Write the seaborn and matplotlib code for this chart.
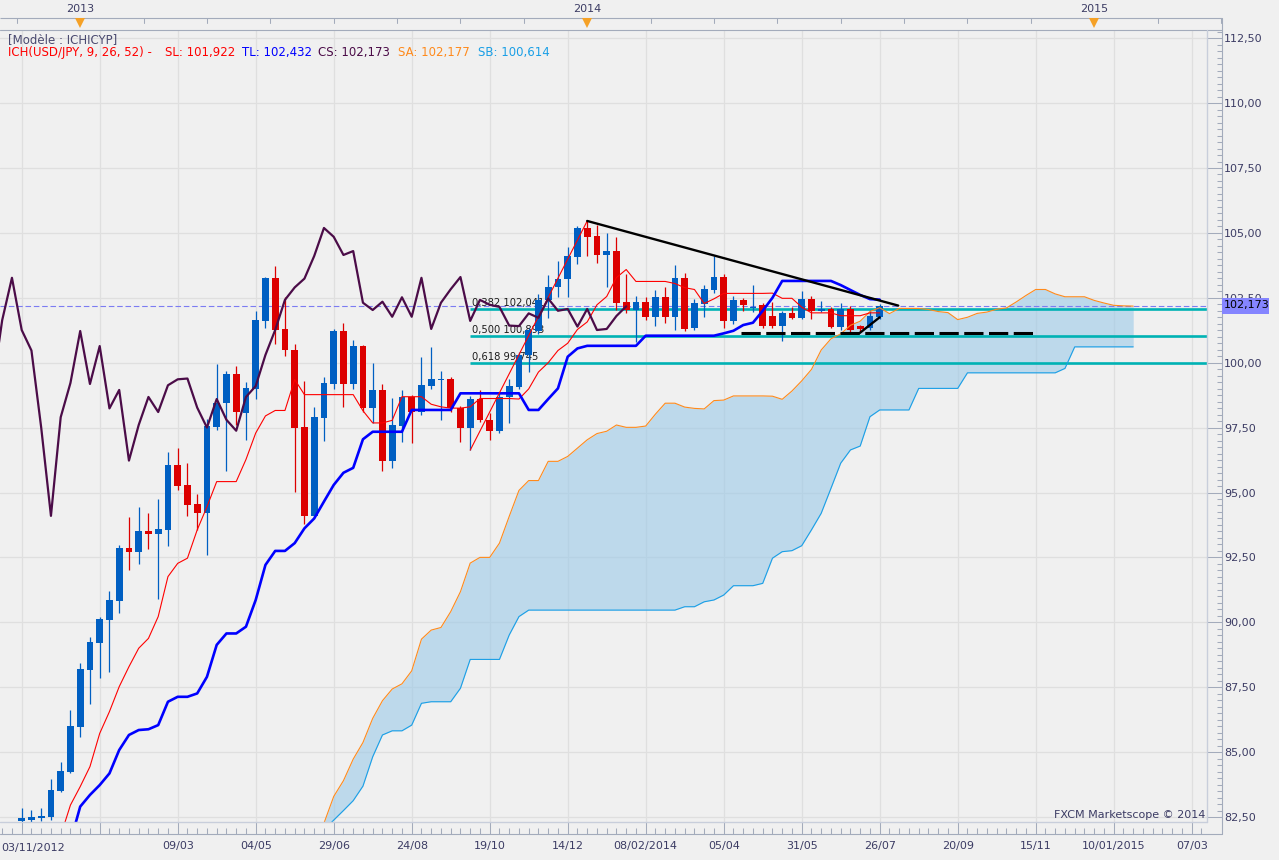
import matplotlib
matplotlib.use("Agg")
import matplotlib.pyplot as plt
import matplotlib.transforms as mtransforms
from matplotlib.lines import Line2D
from matplotlib.patches import Rectangle
from matplotlib.ticker import FixedLocator, FixedFormatter, MultipleLocator
import numpy as np
import seaborn as sns

# --- donnees USD/JPY hebdo ---
opens = [82.35, 82.40, 82.47, 82.50, 83.51, 84.25, 85.98, 88.17, 89.21, 90.09,
         90.82, 92.86, 92.71, 93.52, 93.41, 93.56, 96.06, 95.29, 94.56, 94.21,
         97.53, 98.43, 99.55, 98.07, 98.99, 101.62, 103.27, 101.30, 100.49, 97.53,
         94.10, 97.87, 99.18, 101.22, 99.18, 100.65, 98.26, 98.95, 96.23, 97.56,
         98.68, 98.10, 99.10, 99.33, 99.39, 98.27, 97.50, 98.60, 97.80, 97.38,
         98.68, 99.07, 100.30, 101.23, 102.42, 102.90, 103.22, 104.08, 105.19, 104.88,
         104.15, 104.30, 102.35, 102.03, 102.35, 101.77, 102.52, 101.77, 103.27, 101.33,
         102.26, 102.80, 103.30, 101.61, 102.42, 102.10, 102.23, 101.80, 101.41, 101.90,
         101.73, 102.47, 102.00, 102.07, 101.39, 102.07, 101.40, 101.33, 101.77]
highs = [82.86, 82.77, 82.86, 83.95, 84.63, 86.62, 88.44, 89.43, 90.22, 91.20,
         92.98, 94.07, 94.44, 94.21, 94.75, 96.56, 96.71, 96.14, 94.94, 97.82,
         99.95, 99.68, 99.87, 99.26, 101.99, 103.31, 103.72, 102.54, 100.72, 99.29,
         98.30, 99.46, 101.30, 101.53, 100.87, 100.68, 99.98, 99.17, 98.65, 98.95,
         98.75, 100.23, 100.61, 99.68, 99.45, 98.35, 98.70, 98.95, 98.05, 98.82,
         99.39, 100.42, 101.35, 102.65, 103.38, 103.92, 104.47, 105.25, 105.46, 105.30,
         104.98, 104.83, 103.42, 102.57, 102.54, 102.80, 102.90, 103.76, 103.44, 102.45,
         102.99, 104.11, 103.43, 102.57, 102.50, 102.99, 102.30, 102.33, 101.99, 102.13,
         102.77, 102.57, 102.38, 102.16, 102.29, 102.18, 101.45, 102.03, 102.25]
lows = [82.20, 82.25, 82.35, 82.38, 83.45, 84.20, 85.60, 86.85, 87.87, 88.10,
        90.37, 92.00, 92.25, 92.82, 90.90, 92.94, 95.10, 94.10, 93.56, 92.59,
        97.40, 95.84, 97.60, 97.02, 98.60, 101.33, 100.72, 100.27, 95.03, 93.80,
        94.00, 96.99, 99.00, 98.30, 99.00, 98.10, 97.67, 95.84, 95.95, 96.95,
        96.89, 98.00, 99.00, 97.79, 98.10, 96.95, 96.63, 97.70, 97.02, 97.30,
        97.67, 99.00, 99.63, 101.10, 101.71, 102.54, 102.54, 103.82, 104.12, 103.85,
        102.93, 102.03, 101.90, 100.80, 101.64, 101.41, 101.54, 101.26, 101.22, 101.25,
        101.77, 102.70, 101.35, 101.50, 102.00, 101.95, 101.35, 101.33, 100.85, 101.70,
        101.70, 101.67, 101.95, 101.35, 101.26, 101.20, 101.20, 101.25, 101.70]
closes = [82.45, 82.50, 82.55, 83.54, 84.27, 86.00, 88.20, 89.24, 90.11, 90.85,
          92.86, 92.72, 93.52, 93.41, 93.59, 96.06, 95.26, 94.52, 94.21, 97.56,
          98.43, 99.55, 98.09, 99.01, 101.64, 103.27, 101.26, 100.47, 97.50, 94.10,
          97.90, 99.22, 101.22, 99.18, 100.64, 98.24, 98.95, 96.23, 97.60, 98.68,
          98.10, 99.13, 99.36, 99.39, 98.27, 97.50, 98.60, 97.80, 97.38, 98.68,
          99.10, 100.30, 101.26, 102.42, 102.90, 103.24, 104.11, 105.19, 104.85, 104.15,
          104.30, 102.31, 102.03, 102.35, 101.77, 102.52, 101.77, 103.27, 101.30, 102.31,
          102.83, 103.30, 101.61, 102.42, 102.23, 102.15, 101.43, 101.41, 101.90, 101.73,
          102.47, 102.00, 102.07, 101.39, 102.07, 101.26, 101.30, 101.80, 102.17]

# Tenkan (SL) a partir de la semaine 4, Kijun (TL) a partir de la semaine 5
tenkan_start = 4
tenkan = [81.78, 82.96, 83.67, 84.44, 85.72, 86.56, 87.52, 88.29, 89.00, 89.38,
          90.22, 91.76, 92.27, 92.47, 93.56, 94.45, 95.42, 95.42, 95.42, 96.27,
          97.29, 97.95, 98.16, 98.16, 99.35, 98.77, 98.77, 98.77, 98.77, 98.77,
          98.77, 98.15, 97.68, 97.68, 97.78, 98.69, 98.69, 98.69, 98.40, 98.30,
          98.25, 98.25, 98.30, 98.62, 98.62, 98.62, 98.62, 98.60, 98.99, 99.64,
          100.00, 100.47, 100.75, 101.28, 101.57, 102.23, 102.55, 103.28, 103.59, 103.13,
          103.13, 103.13, 103.13, 103.05, 102.89, 102.82, 102.28, 102.46, 102.67, 102.67,
          102.67, 102.67, 102.67, 102.68, 102.48, 102.48, 102.14, 101.92, 101.92, 101.92,
          101.81, 101.81, 101.81, 101.92, 101.92]
kijun_start = 5
kijun = [81.55, 82.90, 83.35, 83.73, 84.18, 85.08, 85.66, 85.85, 85.88, 86.04,
         86.94, 87.13, 87.13, 87.26, 87.90, 89.13, 89.57, 89.57, 89.83, 90.86,
         92.21, 92.75, 92.75, 93.05, 93.62, 94.00, 94.65, 95.29, 95.76, 95.95,
         97.05, 97.34, 97.34, 97.34, 97.34, 98.18, 98.18, 98.18, 98.18, 98.18,
         98.82, 98.82, 98.82, 98.82, 98.82, 98.82, 98.82, 98.18, 98.18, 98.60,
         99.01, 100.23, 100.55, 100.65, 100.65, 100.65, 100.65, 100.65, 100.65, 101.04,
         101.04, 101.04, 101.04, 101.04, 101.04, 101.04, 101.04, 101.13, 101.23, 101.45,
         101.54, 102.00, 102.50, 103.15, 103.15, 103.15, 103.15, 103.15, 103.15, 102.99,
         102.80, 102.61, 102.45, 102.43]
# nuage : Senkou A / Senkou B, semaines 31 a 114
cloud_start = 31
senkou_a = [82.26, 83.29, 83.90, 84.73, 85.37, 86.30, 86.98, 87.43, 87.63, 88.13,
            89.35, 89.70, 89.80, 90.41, 91.18, 92.28, 92.50, 92.50, 93.05, 94.08,
            95.08, 95.46, 95.46, 96.20, 96.20, 96.39, 96.71, 97.03, 97.27, 97.36,
            97.60, 97.51, 97.51, 97.56, 98.02, 98.44, 98.44, 98.29, 98.24, 98.22,
            98.54, 98.56, 98.72, 98.72, 98.72, 98.72, 98.71, 98.59, 98.91, 99.30,
            99.74, 100.49, 100.92, 101.11, 101.44, 101.60, 101.97, 102.12, 101.89, 102.09,
            102.09, 102.09, 102.05, 101.97, 101.93, 101.66, 101.75, 101.90, 101.95, 102.06,
            102.11, 102.34, 102.59, 102.82, 102.82, 102.65, 102.54, 102.54, 102.54, 102.40,
            102.30, 102.21, 102.19, 102.18]
senkou_b = [82.00, 82.38, 82.75, 83.13, 83.69, 84.82, 85.66, 85.82, 85.82, 86.04,
            86.88, 86.94, 86.94, 86.94, 87.46, 88.57, 88.57, 88.57, 88.57, 89.51,
            90.22, 90.47, 90.47, 90.47, 90.47, 90.47, 90.47, 90.47, 90.47, 90.47,
            90.47, 90.47, 90.47, 90.47, 90.47, 90.47, 90.47, 90.60, 90.60, 90.79,
            90.86, 91.05, 91.41, 91.41, 91.41, 91.50, 92.47, 92.72, 92.76, 92.95,
            93.56, 94.20, 95.16, 96.13, 96.64, 96.79, 97.92, 98.18, 98.18, 98.18,
            98.18, 99.01, 99.01, 99.01, 99.01, 99.01, 99.61, 99.61, 99.61, 99.61,
            99.61, 99.61, 99.61, 99.61, 99.61, 99.61, 99.78, 100.61, 100.61, 100.61,
            100.61, 100.61, 100.61, 100.61]
chikou_from = 23
chikou_shift = 26

# Fibonacci et traces manuels
fib_start = 46
fib_levels = [102.06, 101.03, 100.00]
fib_labels = ["0,382 102,041", "0,500 100,893", "0,618 99,745"]
trend_black_x, trend_black_y = [58, 89.9], [105.46, 102.20]
trend_red_x, trend_red_y = [46, 58], [96.63, 105.46]
trend_short_x, trend_short_y = [85.9, 88.0], [101.13, 101.75]
support_x, support_y = [73.8, 103.8], [101.13, 101.13]
last_price = 102.173

xtick_weeks = [0, 8, 16, 24, 32, 40, 48, 56, 64, 72, 80, 88, 96, 104, 112, 120]
xtick_labels = ["03/11/2012", "", "09/03", "04/05", "29/06", "24/08", "19/10", "14/12",
                "08/02/2014", "05/04", "31/05", "26/07", "20/09", "15/11", "10/01/2015", "07/03"]
year_weeks = [6, 58, 110]
year_labels = ["2013", "2014", "2015"]
ytick_values = [82.5, 85.0, 87.5, 90.0, 92.5, 95.0, 97.5, 100.0, 102.5, 105.0, 107.5, 110.0, 112.5]

# --- styles ---
BG = "#f0f0f0"
GRID = "#dfdfdf"
AXC = "#a3abbb"
TXT = "#3c3c64"
BLUE_C = "#005fc2"
RED_C = "#dc0000"

sns.set_theme(style="white")
plt.rcParams["font.family"] = ["DejaVu Sans"]

W, H = 1279, 860
fig = plt.figure(figsize=(W / 100, H / 100), dpi=100, facecolor=BG)


def fx(px):
    return px / W


def fy(py):
    return 1 - py / H


def fig_line(x0, y0, x1, y1, color=AXC, lw=0.8):
    fig.add_artist(Line2D([fx(x0), fx(x1)], [fy(y0), fy(y1)], transform=fig.transFigure,
                          color=color, lw=lw))


PL, PR, PT, PB = 0, 1207, 30, 822
X0, DX = 21.7, 9.75       # pixel de la semaine 0, pixels par semaine
Y0, DY = 817.0, 25.96     # pixel de 82,50, pixels par yen
ax = fig.add_axes([fx(PL), fy(PB), fx(PR - PL), (PB - PT) / H])
ax.set_facecolor(BG)
xmin, xmax = (PL - X0) / DX, (PR - X0) / DX
ymin, ymax = 82.5 + (Y0 - PB) / DY, 82.5 + (Y0 - PT) / DY

weeks = np.arange(len(opens))
o, h, l, c = map(np.array, (opens, highs, lows, closes))

# grille
for v in xtick_weeks:
    ax.axvline(v, color=GRID, lw=0.9, zorder=0)
for v in ytick_values:
    ax.axhline(v, color=GRID, lw=0.9, zorder=0)

# nuage
cx = np.arange(cloud_start, cloud_start + len(senkou_a))
ax.fill_between(cx, senkou_a, senkou_b, color="#9ecbe8", alpha=0.62, lw=0, zorder=1)

# fibonacci
ax.hlines(fib_levels, fib_start, xmax, colors="#00b2b4", lw=1.9, zorder=2)
for lev, txt in zip(fib_levels, fib_labels):
    ax.annotate(txt, (fib_start, lev), xytext=(1.5, 0.8), textcoords="offset points",
                fontsize=7.2, color="#1e1e1e", va="bottom", ha="left", zorder=2)

# ligne du dernier prix
ax.axhline(last_price, color="#7c7cf2", lw=0.8, dashes=(5, 2.5), zorder=2.5)

# bougies
col = np.where(c >= o, BLUE_C, RED_C)
ax.vlines(weeks, l, h, colors=col, lw=0.9, zorder=4)
ax.bar(weeks, c - o, bottom=o, width=0.68, color=col, lw=0, zorder=4.5)

# lignes ichimoku
sns.lineplot(x=cx, y=senkou_a, ax=ax, color="#ff8a1c", linewidth=0.8, zorder=5)
sns.lineplot(x=cx, y=senkou_b, ax=ax, color="#1a9fe6", linewidth=0.8, zorder=5)
sns.lineplot(x=weeks[tenkan_start:], y=tenkan, ax=ax, color="#ff0000", linewidth=0.8, zorder=6)
sns.lineplot(x=weeks[kijun_start:], y=kijun, ax=ax, color="#0000ff", linewidth=1.9, zorder=6)
sns.lineplot(x=weeks[chikou_from:] - chikou_shift, y=c[chikou_from:], ax=ax,
             color="#4b0c48", linewidth=1.6, zorder=6.5)

# traces
ax.plot(trend_red_x, trend_red_y, color="#ff0000", lw=0.8, zorder=6)
ax.plot(trend_black_x, trend_black_y, color="black", lw=1.7, zorder=7)
ax.plot(trend_short_x, trend_short_y, color="black", lw=1.7, zorder=7)
ax.plot(support_x, support_y, color="black", lw=2.2, linestyle=(0, (6.3, 1.8)), zorder=7)

ax.set_xlim(xmin, xmax)
ax.set_ylim(ymin, ymax)
ax.set_xlabel("")
ax.set_ylabel("")
for s in ax.spines.values():
    s.set_visible(False)
ax.spines["bottom"].set_position(("outward", 8.64))
ax.spines["right"].set_position(("outward", 10.8))

# axe x
ax.xaxis.set_major_locator(FixedLocator(xtick_weeks))
ax.xaxis.set_major_formatter(FixedFormatter([""] + xtick_labels[1:]))
ax.xaxis.set_minor_locator(MultipleLocator(1))
ax.tick_params(axis="x", which="major", direction="in", length=8.64, width=0.75, color=AXC,
               pad=4.8, labelsize=8, labelcolor=TXT, bottom=True, top=False)
ax.tick_params(axis="x", which="minor", direction="in", length=4.3, width=0.75, color=AXC,
               bottom=True, top=False)

# axe y a droite
ax.yaxis.tick_right()
ax.yaxis.set_major_locator(FixedLocator(ytick_values))
ax.yaxis.set_major_formatter(FixedFormatter([f"{v:.2f}".replace(".", ",") for v in ytick_values]))
ax.yaxis.set_minor_locator(MultipleLocator(0.25))
ax.tick_params(axis="y", which="major", direction="in", length=10.8, width=0.75, color=AXC,
               pad=1.5, labelsize=8, labelcolor=TXT, left=False, right=True)
ax.tick_params(axis="y", which="minor", direction="in", length=3.6, width=0.75, color=AXC,
               left=False, right=True)

# premier libelle date cale a gauche
tr_bot = mtransforms.blended_transform_factory(ax.transData, fig.transFigure)
ax.text(xmin + 0.1, fy(848), xtick_labels[0], transform=tr_bot, fontsize=8, color=TXT,
        ha="left", va="center", clip_on=False)

# bandeau des annees en haut
ax.hlines(fy(18), xmin, (1222 - X0) / DX, transform=tr_bot, colors=AXC, lw=0.8, clip_on=False)
for t in np.arange(year_weeks[0] - 6.5, (1222 - X0) / DX, 6.5):
    ax.plot([t, t], [fy(18), fy(23)], transform=tr_bot, color=AXC, lw=0.75, clip_on=False)
for wk, lab in zip(year_weeks, year_labels):
    ax.text(wk, fy(9), lab, transform=tr_bot, fontsize=8, color=TXT, ha="center", va="center",
            clip_on=False)
    ax.plot([wk], [fy(22.5)], transform=tr_bot, marker="v", markersize=6.5, color="#f5a126",
            markeredgewidth=0, clip_on=False)

# cadre
fig_line(0, 30, 1222, 30)
fig_line(1222, 18, 1222, 834)
fig_line(0, 834, 1222, 834)
fig_line(1207, 30, 1207, 822, color="#c8cedb", lw=1.0)
fig_line(0, 822, 1207, 822, color="#c8cedb", lw=1.0)

# etiquette du dernier prix
fig.add_artist(Rectangle((fx(1222), fy(314)), fx(47), 16.5 / H, transform=fig.transFigure,
                         facecolor="#8585ff", edgecolor="none", zorder=5))
fig.text(fx(1224), fy(305.5), "102,173", fontsize=8, color="black", ha="left", va="center",
         zorder=6)

# en-tete
fig.text(fx(8), fy(40), "[Modèle : ICHICYP]", fontsize=8.5, color="#4a4a70", va="center")
header = [(8, "ICH(USD/JPY, 9, 26, 52) -", "#ff0000"), (165, "SL: 101,922", "#ff0000"),
          (242, "TL: 102,432", "#0000ff"), (318, "CS: 102,173", "#4b0c48"),
          (398, "SA: 102,177", "#ff8a1c"), (477.5, "SB: 100,614", "#1a9fe6")]
for xp, txt, cl in header:
    fig.text(fx(xp), fy(52.5), txt, fontsize=8.5, color=cl, va="center")

fig.text(fx(1205), fy(815), "FXCM Marketscope © 2014", fontsize=8, color=TXT,
         ha="right", va="center")

fig.savefig("out.png", dpi=100, facecolor=BG)
